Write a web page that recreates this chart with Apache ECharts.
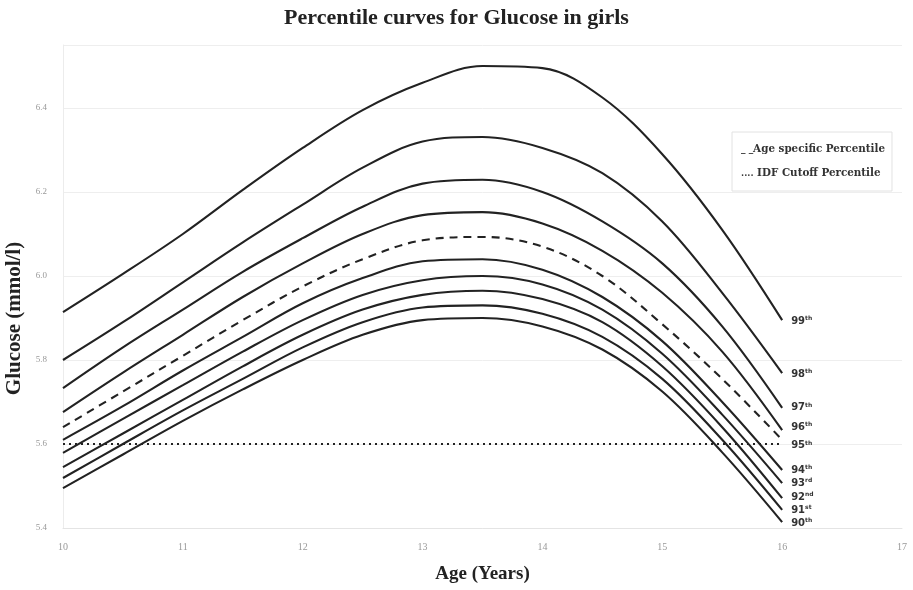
<!DOCTYPE html>
<html>
<head>
<meta charset="utf-8">
<script src="https://cdn.jsdelivr.net/npm/echarts@6/dist/echarts.min.js"></script>
<style>html,body{margin:0;padding:0;background:#fff}#c{width:913px;height:590px}</style>
</head>
<body>
<div id="c"></div>
<script>
// Ages (years)
const ages = [10, 10.5, 11, 11.5, 12, 12.5, 13, 13.5, 14, 14.5, 15, 15.5, 16];
// Percentile curves (mmol/l)
const p99 = [5.914, 6.005, 6.10, 6.205, 6.305, 6.395, 6.46, 6.50, 6.495, 6.425, 6.29, 6.11, 5.895];
const p98 = [5.80, 5.89, 5.985, 6.08, 6.17, 6.258, 6.32, 6.331, 6.305, 6.245, 6.13, 5.96, 5.769];
const p97 = [5.733, 5.83, 5.92, 6.01, 6.09, 6.165, 6.22, 6.229, 6.20, 6.13, 6.03, 5.88, 5.686];
const p96 = [5.676, 5.77, 5.86, 5.95, 6.03, 6.10, 6.145, 6.152, 6.125, 6.06, 5.96, 5.82, 5.633];
const p95AgeSpecific = [5.64, 5.725, 5.81, 5.895, 5.975, 6.04, 6.085, 6.093, 6.07, 6.00, 5.885, 5.755, 5.61];
const p94 = [5.61, 5.69, 5.775, 5.855, 5.935, 5.995, 6.035, 6.04, 6.015, 5.95, 5.845, 5.70, 5.538];
const p93 = [5.579, 5.66, 5.74, 5.82, 5.895, 5.955, 5.99, 6.00, 5.98, 5.92, 5.815, 5.67, 5.507];
const p92 = [5.545, 5.625, 5.705, 5.785, 5.86, 5.92, 5.955, 5.965, 5.945, 5.89, 5.785, 5.64, 5.471];
const p91 = [5.519, 5.60, 5.68, 5.755, 5.83, 5.89, 5.925, 5.93, 5.91, 5.855, 5.755, 5.61, 5.443];
const p90 = [5.495, 5.575, 5.655, 5.73, 5.80, 5.86, 5.895, 5.90, 5.88, 5.825, 5.725, 5.58, 5.414];
// IDF cutoff
const idfCutoff = 5.6;
// Axis ticks
const yTicks = [5.4, 5.6, 5.8, 6.0, 6.2, 6.4];
const xTicks = [10, 11, 12, 13, 14, 15, 16, 17];
// End labels
const curveLabels = [
  ['99', 'th'], ['98', 'th'], ['97', 'th'], ['96', 'th'], ['95', 'th'],
  ['94', 'th'], ['93', 'rd'], ['92', 'nd'], ['91', 'st'], ['90', 'th']
];
const curves = [p99, p98, p97, p96, p95AgeSpecific, p94, p93, p92, p91, p90];
const legendNames = ['Age specific Percentile', 'IDF Cutoff Percentile'];
const legendMarks = ['_ _', '....'];

const serif = "'Liberation Serif', 'DejaVu Serif', serif";
const legendFont = "'DejaVu Serif Condensed', 'DejaVu Serif', serif";
const ink = '#222';

const labelOffsets = [[0,1],[0,1],[0,0],[0,-3],[0,6],[0,0],[0,0],[0,-1],[0,0],[0,1]];

const series = curves.map((vals, i) => {
  const isDashed = i === 4;
  return {
    name: isDashed ? legendNames[0] : curveLabels[i][0] + curveLabels[i][1],
    type: 'line',
    smooth: 0.35,
    symbol: 'none',
    silent: true,
    data: ages.map((a, k) => [a, vals[k]]),
    lineStyle: { color: ink, width: 2.1, type: isDashed ? [8, 6] : 'solid' },
    itemStyle: { color: ink },
    endLabel: {
      show: true,
      distance: 9,
      offset: labelOffsets[i],
      formatter: () => '{n|' + curveLabels[i][0] + '}{s|' + curveLabels[i][1] + '}',
      rich: {
        n: { fontFamily: "'DejaVu Sans', sans-serif", fontWeight: 'bold', fontSize: 10, color: '#333' },
        s: { fontFamily: "'DejaVu Sans', sans-serif", fontWeight: 'bold', fontSize: 6, color: '#333', verticalAlign: 'top', padding: [0,0,5,0] }
      }
    },
    z: 3
  };
});

series.push({
  name: legendNames[1],
  type: 'line',
  symbol: 'none',
  silent: true,
  data: [[ages[0], idfCutoff], [ages[ages.length - 1], idfCutoff]],
  lineStyle: { color: ink, width: 2.2, type: [2, 4] },
  itemStyle: { color: ink },
  z: 2
});

const chart = echarts.init(document.getElementById('c'));
chart.setOption({
  backgroundColor: '#fff',
  animation: false,
  title: {
    text: 'Percentile curves for Glucose in girls',
    left: 'center',
    top: 2,
    textStyle: { fontFamily: serif, fontWeight: 'bold', fontSize: 22, color: ink }
  },
  legend: {
    orient: 'vertical',
    left: 732,
    top: 132,
    data: legendNames.map(n => ({ name: n, icon: 'none' })),
    itemWidth: 0,
    itemHeight: 0,
    itemGap: 12,
    padding: [11, 7, 12, 4],
    borderColor: '#e2e2e2',
    borderWidth: 1,
    selectedMode: false,
    formatter: name => '{m|' + legendMarks[legendNames.indexOf(name)] + '}' + (name === legendNames[0] ? '' : ' ') + name,
    textStyle: {
      fontFamily: legendFont, fontWeight: 'bold', fontSize: 11.5, color: '#333',
      rich: { m: { fontFamily: legendFont, fontWeight: 'bold', fontSize: 10, color: '#333' } }
    }
  },
  grid: { left: 63, right: 11, top: 45, bottom: 62, containLabel: false, outerBoundsMode: 'none' },
  xAxis: {
    type: 'value',
    min: xTicks[0],
    max: xTicks[xTicks.length - 1],
    interval: 1,
    name: 'Age (Years)',
    nameLocation: 'middle',
    nameGap: 37,
    nameTextStyle: { fontFamily: serif, fontWeight: 'bold', fontSize: 19, color: ink },
    axisLine: { show: true, lineStyle: { color: '#e4e4e4' } },
    axisTick: { show: false },
    splitLine: { show: false },
    axisLabel: { margin: 14, fontFamily: serif, fontSize: 10, color: '#999' }
  },
  yAxis: {
    type: 'value',
    min: yTicks[0],
    max: 6.55,
    interval: 0.2,
    name: 'Glucose (mmol/l)',
    nameLocation: 'middle',
    nameGap: 34,
    nameTextStyle: { fontFamily: serif, fontWeight: 'bold', fontSize: 21, color: ink, padding: [0, 64, 0, 0] },
    axisLine: { show: true, lineStyle: { color: '#ececec' } },
    axisTick: { show: false },
    splitLine: { show: true, lineStyle: { color: '#eeeeee' } },
    axisLabel: {
      margin: 16, fontFamily: serif, fontSize: 9, color: '#999', showMaxLabel: false,
      formatter: v => {
        const t = yTicks.find(y => Math.abs(y - v) < 1e-6);
        return t === undefined ? '' : t.toFixed(1);
      }
    }
  },
  series: series
});
</script>
</body>
</html>
